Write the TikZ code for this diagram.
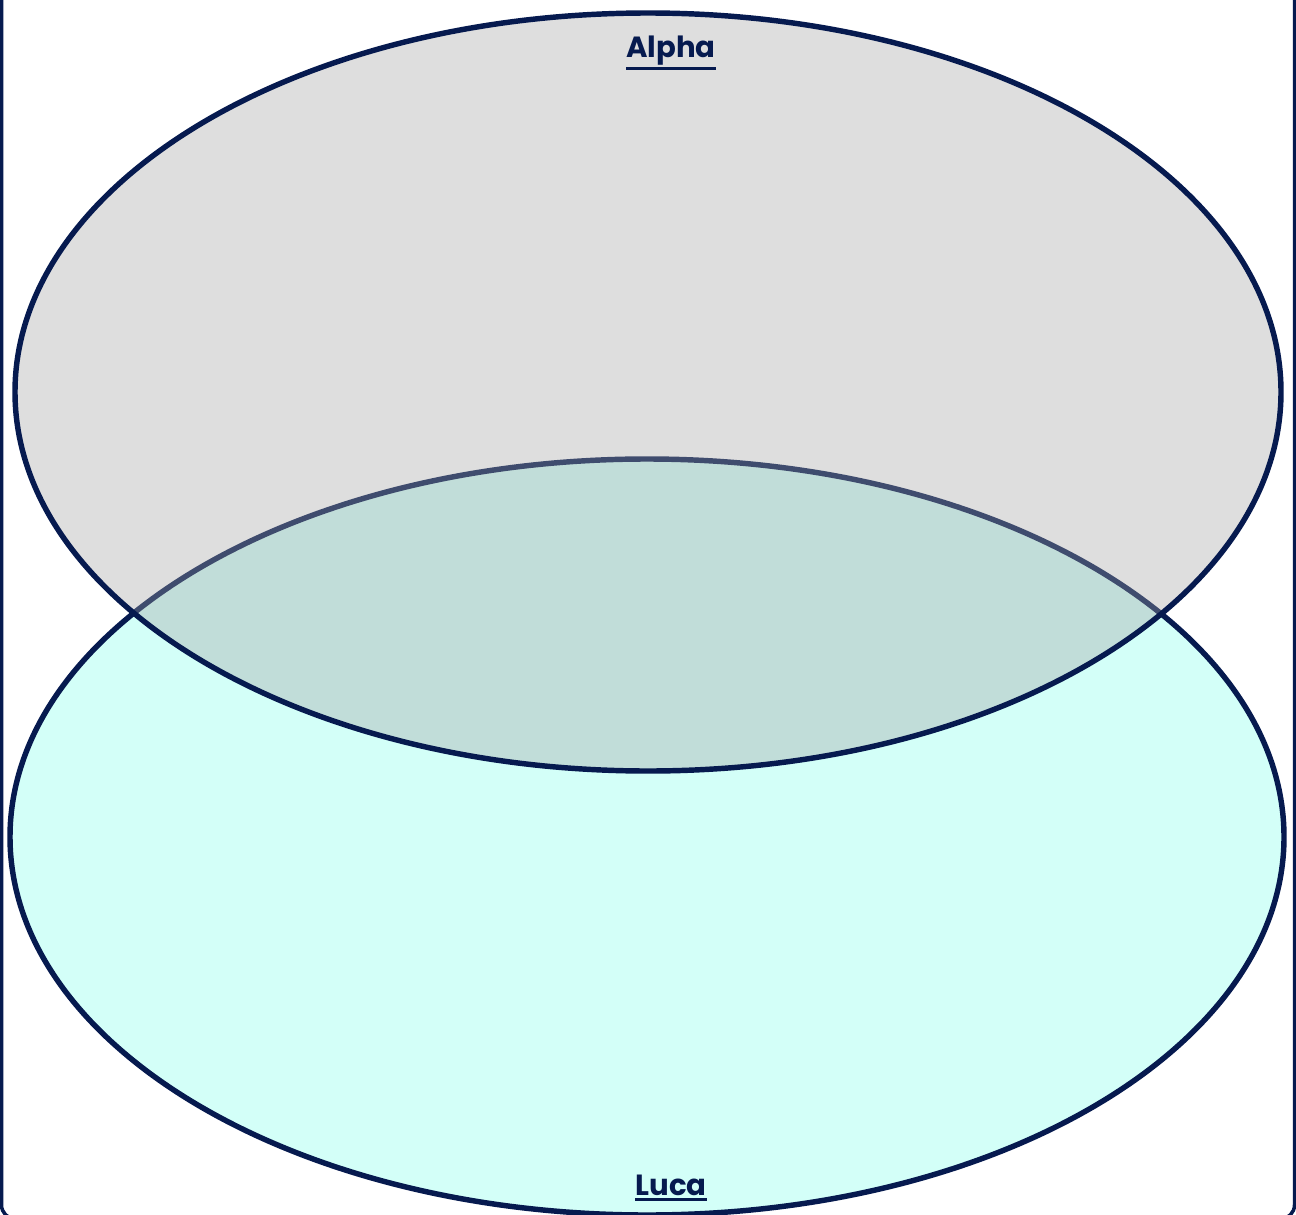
\documentclass[tikz,border=0pt]{standalone}
\usepackage{fontspec}
\setmainfont{Poppins}
\usepackage{tikz}
\usepackage{xcolor}
\usetikzlibrary{positioning, shapes.geometric}
\definecolor{mNavy}{HTML}{061A4F}
\definecolor{mGrey}{HTML}{A4A4A4}
\definecolor{mCyan}{HTML}{D3FFF8}
\newcommand{\setul}[1]{\vtop{\hbox{#1}\kern0.6pt\hrule height 0.75pt}}

\begin{document}
\begin{tikzpicture}[
  setA/.style={ellipse, draw=mNavy, line width=1.55pt, fill=mGrey,
               fill opacity=0.365, draw opacity=1,
               minimum width=12.66cm, minimum height=7.58cm, inner sep=0pt},
  setB/.style={ellipse, draw=mNavy, line width=1.55pt, fill=mCyan,
               minimum width=12.74cm, minimum height=7.56cm, inner sep=0pt},
  setlabel/.style={text=mNavy, font=\bfseries\fontsize{8.3}{10}\selectfont,
                   inner sep=1pt},
]
  \useasboundingbox (0,0) rectangle (12.96,12.14);
  \draw[mNavy, line width=1pt, rounded corners=4pt]
    (0.015,12.4) rectangle (12.945,-0.05);
  % Luca underneath, Alpha laid over it
  \node[setB] (luca) at (6.47,3.77) {};
  \node[setA] (alpha) at (6.48,8.22) {};
  \node[setlabel] (alphaLabel) at (6.71,11.61) {\setul{Alpha}};
  \node[setlabel] (lucaLabel) at (6.71,0.26) {\setul{Luca}};
\end{tikzpicture}
\end{document}
